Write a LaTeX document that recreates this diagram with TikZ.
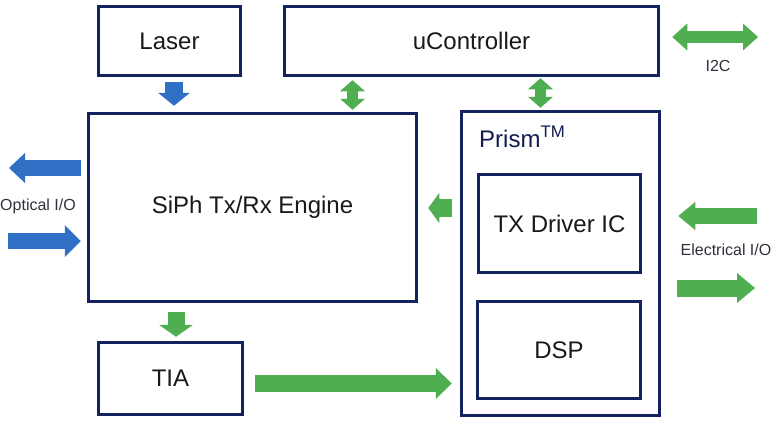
\documentclass[tikz,border=0pt]{standalone}
\usepackage{fontspec}
\setmainfont{Liberation Sans}
\usetikzlibrary{arrows.meta}
\definecolor{navy}{RGB}{20,34,94}
\definecolor{ablue}{RGB}{47,112,196}
\definecolor{agreen}{RGB}{78,174,80}
\definecolor{txt}{RGB}{25,25,25}
\definecolor{lbl}{RGB}{45,50,60}
\begin{document}
\begin{tikzpicture}[x=1pt,y=-1pt,
  box/.style={draw=navy, line width=3.5pt, text=txt, font=\fontsize{24}{28}\selectfont, inner sep=0pt},
  lab/.style={text=lbl, font=\fontsize{16}{19}\selectfont, inner sep=0pt},
  barrow/.style={draw=ablue, fill=ablue},
  garrow/.style={draw=agreen, fill=agreen}]
\useasboundingbox[fill=white] (0,0) rectangle (773,420);

% blocks
\node[box, minimum width=142pt, minimum height=69pt] (laser) at (169.5,41) {Laser};
\node[box, minimum width=374pt, minimum height=69pt] (uc) at (471.5,41) {uController};
\node[box, minimum width=328pt, minimum height=188pt] (siph) at (252.5,207.5) {SiPh Tx/Rx Engine};
\node[box, minimum width=198pt, minimum height=304pt] (prism) at (560.5,263.5) {};
\node[box, minimum width=162pt, minimum height=98pt] (tx) at (559.5,223.5) {TX Driver IC};
\node[box, minimum width=163pt, minimum height=97pt] (dsp) at (559,350) {DSP};
\node[box, minimum width=144pt, minimum height=72pt] (tia) at (170.5,378.5) {TIA};
\node[anchor=base west, inner sep=0pt, text=navy!85!black, font=\fontsize{24}{28}\selectfont] (prismlbl) at (479,147) {Prism\textsuperscript{TM}};

% labels
\node[lab] (i2c) at (718,66) {I2C};
\node[lab] (optlbl) at (38,206) {Optical I/O};
\node[lab] (ellbl) at (726,250) {Electrical I/O};

% helper coordinates
\coordinate (xl) at (174,0);
\coordinate (xa) at (352.5,0);
\coordinate (xb) at (540.5,0);
\coordinate (i2cend) at (758,37);
\coordinate (optout) at (9,168);
\coordinate (optin) at (8,241);
\coordinate (ymid) at (0,208);
\coordinate (elin) at (757,216);
\coordinate (elout) at (755,288);
\coordinate (xt) at (176,0);
\coordinate (ybot) at (0,383.5);

% arrows
\draw[barrow, line width=18pt, -{Triangle[width=32pt,length=13pt,line width=0pt]}, shorten <=5pt, shorten >=6pt]
  (laser.south -| xl) -- (siph.north -| xl);
\draw[garrow, line width=11pt, {Triangle[width=25pt,length=11pt,line width=0pt]}-{Triangle[width=25pt,length=11pt,line width=0pt]}, shorten <=3pt, shorten >=2pt]
  (uc.south -| xa) -- (siph.north -| xa);
\draw[garrow, line width=11pt, {Triangle[width=25pt,length=11pt,line width=0pt]}-{Triangle[width=25pt,length=11pt,line width=0pt]}, shorten <=1pt, shorten >=2pt]
  (uc.south -| xb) -- (prism.north -| xb);
\draw[garrow, line width=12pt, {Triangle[width=27pt,length=15pt,line width=0pt]}-{Triangle[width=27pt,length=15pt,line width=0pt]}, shorten <=12pt]
  (uc.east |- i2cend) -- (i2cend);
\draw[barrow, line width=16pt, -{Triangle[width=30pt,length=16pt,line width=0pt]}, shorten <=6pt]
  (siph.west |- optout) -- (optout);
\draw[barrow, line width=16pt, -{Triangle[width=32pt,length=16pt,line width=0pt]}, shorten >=6pt]
  (optin) -- (siph.west |- optin);
\draw[garrow, line width=18pt, -{Triangle[width=30pt,length=11pt,line width=0pt]}, shorten <=8pt, shorten >=10pt]
  (prism.west |- ymid) -- (siph.east |- ymid);
\draw[garrow, line width=16pt, -{Triangle[width=28pt,length=17pt,line width=0pt]}, shorten >=17pt]
  (elin) -- (prism.east |- elin);
\draw[garrow, line width=17pt, -{Triangle[width=30pt,length=18pt,line width=0pt]}, shorten <=16pt]
  (prism.east |- elout) -- (elout);
\draw[garrow, line width=17pt, -{Triangle[width=34pt,length=12pt,line width=0pt]}, shorten <=9pt, shorten >=4pt]
  (siph.south -| xt) -- (tia.north -| xt);
\draw[garrow, line width=17pt, -{Triangle[width=31pt,length=16pt,line width=0pt]}, shorten <=11pt, shorten >=8pt]
  (tia.east |- ybot) -- (prism.west |- ybot);
\end{tikzpicture}
\end{document}
